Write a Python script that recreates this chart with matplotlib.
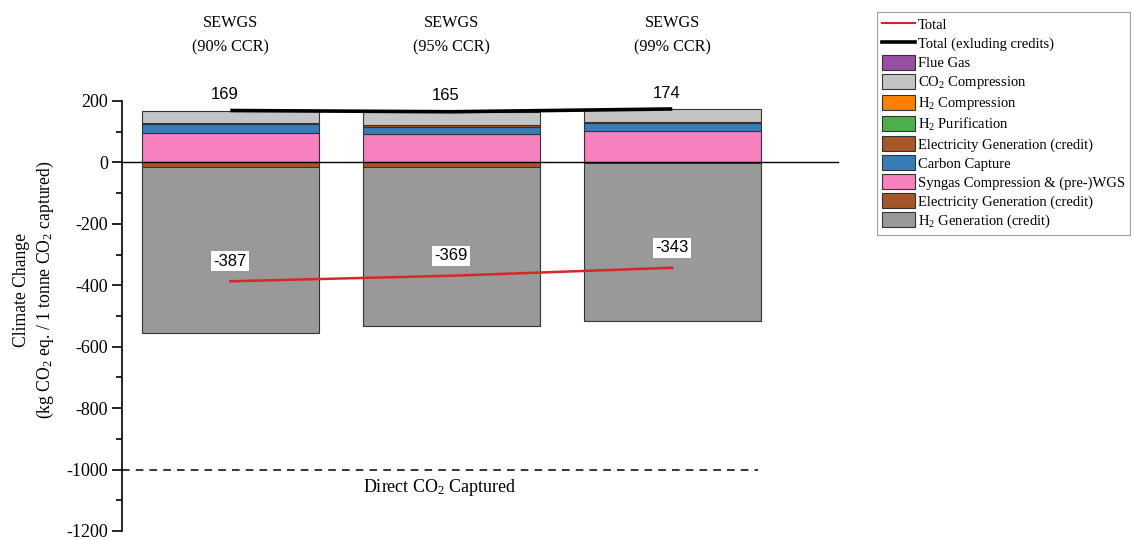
import matplotlib
matplotlib.use("Agg")
import matplotlib.pyplot as plt
from matplotlib.patches import Patch
from matplotlib.lines import Line2D
import numpy as np

plt.rcParams['font.family'] = ['Liberation Serif', 'DejaVu Serif']
plt.rcParams['mathtext.fontset'] = 'custom'
plt.rcParams['mathtext.rm'] = 'Liberation Serif'
plt.rcParams['mathtext.it'] = 'Liberation Serif:italic'
plt.rcParams['axes.unicode_minus'] = False

# Scenarios
scenarios = ["SEWGS\n(90% CCR)", "SEWGS\n(95% CCR)", "SEWGS\n(99% CCR)"]

# Positive contributions (kg CO2 eq. / t CO2 captured), bottom to top
syngas_wgs = [96, 91, 101]
carbon_capture = [28, 25, 26]
elec_gen_pos = [5, 5, 5]
h2_purification = [0, 0, 0]
h2_compression = [0, 0, 0]
co2_compression = [40, 44, 42]
flue_gas = [0, 0, 0]

# Credits (negative), top to bottom
elec_gen_credit = [-15, -15, -2]
h2_gen_credit = [-541, -519, -515]

total = [-387, -369, -343]
total_excl_credits = [169, 165, 174]
direct_captured = -1000

c_purple = '#984EA3'
c_lgray = '#C4C4C4'
c_orange = '#FF7F00'
c_green = '#4DAF4A'
c_brown = '#A65628'
c_blue = '#377EB8'
c_pink = '#F781BF'
c_gray = '#999999'

fig = plt.figure(figsize=(11.37, 5.40), dpi=100)
ax = fig.add_axes([0.1073, 0.0167, 0.6297, 0.7963])

x = np.arange(len(scenarios))
w = 0.8
ekw = dict(edgecolor='#333333', linewidth=0.8)

pos_layers = [
    (syngas_wgs, c_pink),
    (carbon_capture, c_blue),
    (elec_gen_pos, c_brown),
    (h2_purification, c_green),
    (h2_compression, c_orange),
    (co2_compression, c_lgray),
    (flue_gas, c_purple),
]
bottom = np.zeros(len(x))
for vals, col in pos_layers:
    v = np.array(vals, dtype=float)
    if v.any():
        ax.bar(x, v, w, bottom=bottom, color=col, **ekw, zorder=2)
    bottom += v

neg_layers = [(elec_gen_credit, c_brown), (h2_gen_credit, c_gray)]
bottom = np.zeros(len(x))
for vals, col in neg_layers:
    v = np.array(vals, dtype=float)
    ax.bar(x, v, w, bottom=bottom, color=col, **ekw, zorder=2)
    bottom += v

# Totals
ax.plot(x, total_excl_credits, color='black', lw=2.6, zorder=4,
        solid_capstyle='butt')
ax.plot(x, total, color='#D62728', lw=1.8, zorder=4)

for xi, t in zip(x, total_excl_credits):
    ax.annotate(f"{t}", (xi, t), xytext=(-4, 6), textcoords='offset points',
                ha='center', va='bottom', fontsize=12,
                family='Liberation Sans', annotation_clip=False, zorder=5)
for xi, t in zip(x, total):
    ax.annotate(f"{t}", (xi, t), xytext=(0, 9), textcoords='offset points',
                ha='center', va='bottom', fontsize=12,
                family='Liberation Sans', zorder=5,
                bbox=dict(boxstyle='square,pad=0.15', fc='white', ec='none'))

# Direct capture reference
ax.axhline(direct_captured, xmin=0, xmax=0.888, color='black', lw=1.1,
           ls=(0, (5, 4)), zorder=1)
ax.text(0.95, direct_captured - 58, r"Direct CO$_2$ Captured", ha='center',
        va='center', fontsize=13)

# Scenario titles
for xi, s in zip(x, scenarios):
    ax.text(xi, 1.153, s, transform=ax.get_xaxis_transform(),
            ha='center', va='center', fontsize=11.7, linespacing=1.75)

ax.set_xlim(-0.49, 2.75)
ax.set_ylim(-1200, 200)
ax.set_yticks(np.arange(-1200, 201, 200))
ax.set_yticks(np.arange(-1100, 200, 200), minor=True)
ax.tick_params(axis='y', which='major', direction='out', length=7, width=1.2,
               labelsize=13, pad=3)
ax.tick_params(axis='y', which='minor', direction='out', length=4, width=1.2)
ax.set_xticks([])
ax.spines['top'].set_visible(False)
ax.spines['right'].set_visible(False)
ax.spines['bottom'].set_position(('data', 0))
ax.spines['bottom'].set_zorder(3)
ax.spines['left'].set_linewidth(1.2)
ax.spines['bottom'].set_linewidth(1.0)

ax.set_ylabel("Climate Change\n" + r"(kg CO$_2$ eq. / 1 tonne CO$_2$ captured)",
              fontsize=12.7, linespacing=1.35)
ax.yaxis.set_label_coords(-0.092, 0.56)

handles = [
    Line2D([], [], color='#D62728', lw=1.5),
    Line2D([], [], color='black', lw=2.6),
    Patch(facecolor=c_purple, **ekw),
    Patch(facecolor=c_lgray, **ekw),
    Patch(facecolor=c_orange, **ekw),
    Patch(facecolor=c_green, **ekw),
    Patch(facecolor=c_brown, **ekw),
    Patch(facecolor=c_blue, **ekw),
    Patch(facecolor=c_pink, **ekw),
    Patch(facecolor=c_brown, **ekw),
    Patch(facecolor=c_gray, **ekw),
]
labels = [
    "Total",
    "Total (exluding credits)",
    "Flue Gas",
    r"CO$_2$ Compression",
    r"H$_2$ Compression",
    r"H$_2$ Purification",
    "Electricity Generation (credit)",
    "Carbon Capture",
    "Syngas Compression & (pre-)WGS",
    "Electricity Generation (credit)",
    r"H$_2$ Generation (credit)",
]
leg = fig.legend(handles, labels, loc='upper left',
                 bbox_to_anchor=(0.771, 0.978), fontsize=10.5,
                 frameon=True, fancybox=False, edgecolor='#888888',
                 handlelength=2.3, handleheight=1.2, handletextpad=0.2,
                 labelspacing=0.24, borderpad=0.35, borderaxespad=0)
leg.get_frame().set_linewidth(0.8)

fig.savefig("out.png", dpi=100)
